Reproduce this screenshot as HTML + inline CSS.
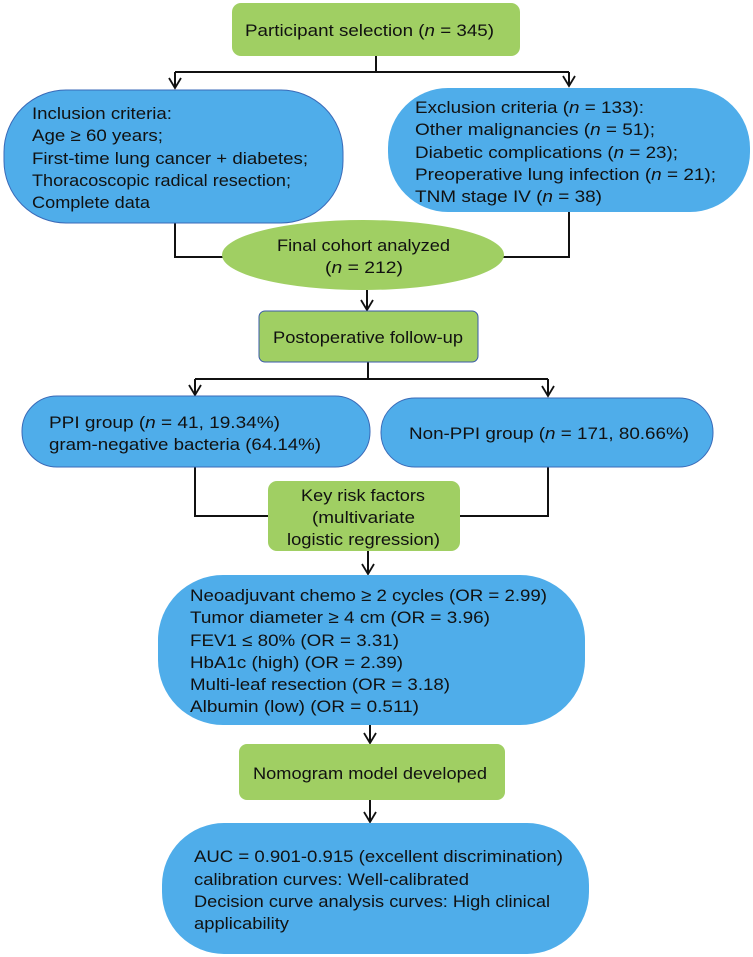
<!DOCTYPE html>
<html><head><meta charset="utf-8"><style>
html,body{margin:0;padding:0;background:#fff}
svg{display:block}
text{font-family:"Liberation Sans",sans-serif;font-size:17px;fill:#111}
</style></head><body>
<svg width="753" height="957" viewBox="0 0 753 957" xmlns="http://www.w3.org/2000/svg">
<g stroke="#111" stroke-width="2" fill="none">
<path d="M376,56 V72 M175,72 H569"/>
<path d="M175,72 V88 M569,72 V86"/>
<path d="M175,223 V257 H230 M569,212 V257 H500"/>
<path d="M367,290 V310"/>
<path d="M368,362 V379 M195,379 H548"/>
<path d="M195,379 V395 M548,379 V396"/>
<path d="M195,467 V516 H270 M548,467 V516 H460"/>
<path d="M368,551 V574"/>
<path d="M370,725 V743"/>
<path d="M370,800 V822"/>
</g>
<g stroke="#111" stroke-width="1.8" fill="none">
<path d="M169,78 L175,88 L181,78"/>
<path d="M563,76 L569,86 L575,76"/>
<path d="M361,300 L367,310 L373,300"/>
<path d="M189,385 L195,395 L201,385"/>
<path d="M542,386 L548,396 L554,386"/>
<path d="M362,564 L368,574 L374,564"/>
<path d="M364,733 L370,743 L376,733"/>
<path d="M364,812 L370,822 L376,812"/>
</g>
<g fill="#A0CF63">
<rect x="232" y="3" width="288" height="53" rx="9"/>
<ellipse cx="363" cy="255" rx="141" ry="35"/>
<rect x="259" y="311" width="219" height="51" rx="6" stroke="#3a5aa8" stroke-width="1"/>
<rect x="268" y="481" width="192" height="70" rx="9"/>
<rect x="239" y="744" width="266" height="56" rx="8"/>
</g>
<g fill="#4FADEA" stroke="#3a6ab8" stroke-width="1">
<rect x="4" y="90" width="339" height="133" rx="62"/>
<rect x="388" y="88" width="362" height="124" rx="60" stroke="none"/>
<rect x="22" y="396" width="348" height="71" rx="35"/>
<rect x="381" y="398" width="332" height="69" rx="34"/>
<rect x="158" y="575" width="427" height="150" rx="65" stroke="none"/>
<rect x="162" y="823" width="427" height="131" rx="62" stroke="none"/>
</g>
<g>
<text x="245" y="36" textLength="249" lengthAdjust="spacingAndGlyphs">Participant selection (<tspan font-style="italic">n</tspan> = 345)</text>
<text x="32" y="119" textLength="140" lengthAdjust="spacingAndGlyphs">Inclusion criteria:</text>
<text x="32" y="141" textLength="131" lengthAdjust="spacingAndGlyphs">Age ≥ 60 years;</text>
<text x="32" y="164" textLength="276" lengthAdjust="spacingAndGlyphs">First-time lung cancer + diabetes;</text>
<text x="32" y="186" textLength="259" lengthAdjust="spacingAndGlyphs">Thoracoscopic radical resection;</text>
<text x="32" y="208" textLength="118" lengthAdjust="spacingAndGlyphs">Complete data</text>
<text x="415" y="113" textLength="229" lengthAdjust="spacingAndGlyphs">Exclusion criteria (<tspan font-style="italic">n</tspan> = 133):</text>
<text x="415" y="135" textLength="240" lengthAdjust="spacingAndGlyphs">Other malignancies (<tspan font-style="italic">n</tspan> = 51);</text>
<text x="415" y="158" textLength="263" lengthAdjust="spacingAndGlyphs">Diabetic complications (<tspan font-style="italic">n</tspan> = 23);</text>
<text x="415" y="180" textLength="301" lengthAdjust="spacingAndGlyphs">Preoperative lung infection (<tspan font-style="italic">n</tspan> = 21);</text>
<text x="415" y="202" textLength="187" lengthAdjust="spacingAndGlyphs">TNM stage IV (<tspan font-style="italic">n</tspan> = 38)</text>
<text x="277" y="251" textLength="173" lengthAdjust="spacingAndGlyphs">Final cohort analyzed</text>
<text x="325" y="273" textLength="78" lengthAdjust="spacingAndGlyphs">(<tspan font-style="italic">n</tspan> = 212)</text>
<text x="273" y="343" textLength="190" lengthAdjust="spacingAndGlyphs">Postoperative follow-up</text>
<text x="49" y="428" textLength="231" lengthAdjust="spacingAndGlyphs">PPI group (<tspan font-style="italic">n</tspan> = 41, 19.34%)</text>
<text x="49" y="450" textLength="272" lengthAdjust="spacingAndGlyphs">gram-negative bacteria (64.14%)</text>
<text x="409" y="439" textLength="280" lengthAdjust="spacingAndGlyphs">Non-PPI group (<tspan font-style="italic">n</tspan> = 171, 80.66%)</text>
<text x="301" y="501" textLength="124" lengthAdjust="spacingAndGlyphs">Key risk factors</text>
<text x="312" y="523" textLength="103" lengthAdjust="spacingAndGlyphs">(multivariate</text>
<text x="287" y="545" textLength="153" lengthAdjust="spacingAndGlyphs">logistic regression)</text>
<text x="190" y="601" textLength="357" lengthAdjust="spacingAndGlyphs">Neoadjuvant chemo ≥ 2 cycles (OR = 2.99)</text>
<text x="190" y="623" textLength="300" lengthAdjust="spacingAndGlyphs">Tumor diameter ≥ 4 cm (OR = 3.96)</text>
<text x="190" y="646" textLength="209" lengthAdjust="spacingAndGlyphs">FEV1 ≤ 80% (OR = 3.31)</text>
<text x="190" y="668" textLength="213" lengthAdjust="spacingAndGlyphs">HbA1c (high) (OR = 2.39)</text>
<text x="190" y="690" textLength="260" lengthAdjust="spacingAndGlyphs">Multi-leaf resection (OR = 3.18)</text>
<text x="190" y="712" textLength="229" lengthAdjust="spacingAndGlyphs">Albumin (low) (OR = 0.511)</text>
<text x="253" y="779" textLength="234" lengthAdjust="spacingAndGlyphs">Nomogram model developed</text>
<text x="194" y="862" textLength="369" lengthAdjust="spacingAndGlyphs">AUC = 0.901-0.915 (excellent discrimination)</text>
<text x="194" y="885" textLength="275" lengthAdjust="spacingAndGlyphs">calibration curves: Well-calibrated</text>
<text x="194" y="907" textLength="356" lengthAdjust="spacingAndGlyphs">Decision curve analysis curves: High clinical</text>
<text x="194" y="929" textLength="95" lengthAdjust="spacingAndGlyphs">applicability</text>
</g>
</svg>
</body></html>
